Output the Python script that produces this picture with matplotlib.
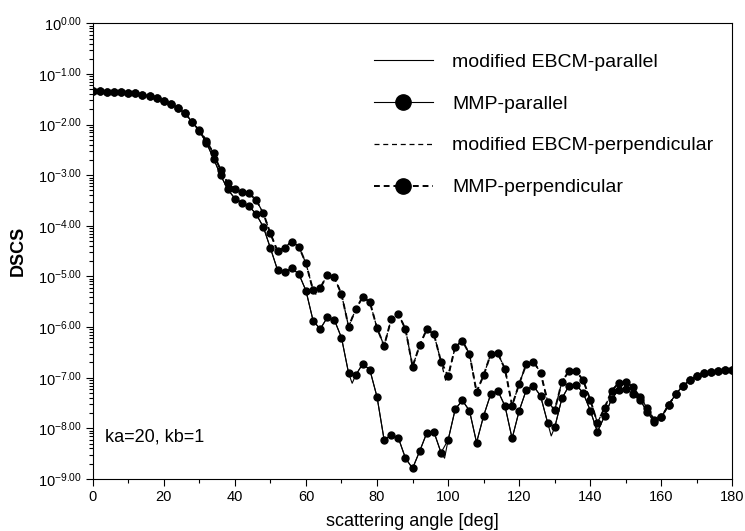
import numpy as np
import matplotlib
matplotlib.use("Agg")
import matplotlib.pyplot as plt
from matplotlib.ticker import FixedLocator, LogLocator, NullFormatter

plt.rcParams["font.family"] = ["Liberation Sans", "DejaVu Sans"]

# scattering angle grid of the MMP points (every 2 deg, 0..180)
angle = np.arange(0, 181, 2)

# log10(DSCS), MMP points
mmp_perp = [
    -1.34, -1.34, -1.35, -1.35, -1.36, -1.37, -1.38, -1.41, -1.44, -1.47,
    -1.53, -1.59, -1.67, -1.78, -1.94, -2.11, -2.32, -2.57, -2.90, -3.16,
    -3.28, -3.33, -3.36, -3.49, -3.75, -4.15, -4.50, -4.43, -4.31, -4.41,
    -4.74, -5.27, -5.23, -4.97, -5.02, -5.35, -5.99, -5.65, -5.40, -5.51,
    -6.02, -6.37, -5.84, -5.74, -6.04, -6.78, -6.36, -6.04, -6.14, -6.68,
    -6.97, -6.39, -6.27, -6.53, -7.28, -6.95, -6.53, -6.52, -6.83, -7.55,
    -7.12, -6.73, -6.68, -6.90, -7.47, -7.64, -7.08, -6.87, -6.87, -7.05,
    -7.44, -7.89, -7.60, -7.26, -7.10, -7.08, -7.19, -7.38, -7.60, -7.84,
    -7.78, -7.54, -7.33, -7.16, -7.05, -6.97, -6.91, -6.88, -6.86, -6.85,
    -6.84,
]
mmp_par = [
    -1.34, -1.34, -1.35, -1.35, -1.36, -1.37, -1.38, -1.41, -1.44, -1.47,
    -1.53, -1.59, -1.67, -1.78, -1.95, -2.13, -2.36, -2.67, -3.00, -3.28,
    -3.46, -3.54, -3.61, -3.77, -4.02, -4.44, -4.87, -4.91, -4.84, -4.95,
    -5.28, -5.87, -6.04, -5.81, -5.86, -6.21, -6.91, -6.95, -6.72, -6.85,
    -7.38, -8.23, -8.13, -8.19, -8.59, -8.79, -8.45, -8.09, -8.07, -8.48,
    -8.23, -7.62, -7.45, -7.65, -8.28, -7.75, -7.32, -7.26, -7.56, -8.20,
    -7.65, -7.24, -7.16, -7.36, -7.89, -7.98, -7.41, -7.16, -7.14, -7.30,
    -7.65, -8.07, -7.76, -7.42, -7.24, -7.22, -7.32, -7.44, -7.67, -7.88,
    -7.78, -7.54, -7.33, -7.16, -7.05, -6.97, -6.91, -6.88, -6.86, -6.85,
    -6.84,
]

# extra minima of the (finer) EBCM curves between MMP points
ebcm_par_dip_angle = [73.0, 99.0, 129.0]
ebcm_par_dip_val = [-7.11, -8.59, -8.15]
ebcm_perp_dip_angle = [63.0, 99.4]
ebcm_perp_dip_val = [-5.37, -7.08]

ytick_exp = [0, -1, -2, -3, -4, -5, -6, -7, -8, -9]
xticks = [0, 20, 40, 60, 80, 100, 120, 140, 160, 180]


def merged(a, v, da, dv):
    x = np.concatenate([a, da])
    y = np.concatenate([v, dv])
    o = np.argsort(x)
    return x[o], 10.0 ** y[o]


fig = plt.figure(figsize=(7.45, 5.31), dpi=100)
ax = fig.add_axes([0.1244, 0.098, 0.8588, 0.858])

ex_par, ey_par = merged(angle, mmp_par, ebcm_par_dip_angle, ebcm_par_dip_val)
ex_perp, ey_perp = merged(angle, mmp_perp, ebcm_perp_dip_angle, ebcm_perp_dip_val)

ax.plot(ex_par, ey_par, color="black", lw=0.8, label="modified EBCM-parallel")
ax.plot(angle, 10.0 ** np.array(mmp_par), color="black", lw=0.8, marker="o",
        ms=5, label="MMP-parallel")
ax.plot(ex_perp, ey_perp, color="black", lw=0.9, ls=(0, (4, 3)),
        label="modified EBCM-perpendicular")
ax.plot(angle, 10.0 ** np.array(mmp_perp), color="black", lw=1.4, ls=(0, (3, 2)),
        marker="o", ms=5, label="MMP-perpendicular")

ax.set_yscale("log")
ax.set_xlim(0, 180)
ax.set_ylim(1e-9, 1e0)

ax.xaxis.set_major_locator(FixedLocator(xticks))
ax.xaxis.set_minor_locator(FixedLocator(np.arange(10, 180, 20)))
ax.set_xticklabels([str(t) for t in xticks], fontsize=10.5)

ax.yaxis.set_major_locator(FixedLocator([10.0 ** e for e in ytick_exp]))
ax.set_yticklabels([r"$\mathregular{10^{%.2f}}$" % e for e in ytick_exp], fontsize=10.5)
ax.yaxis.set_minor_locator(LogLocator(base=10, subs=np.arange(2, 10), numticks=20))
ax.yaxis.set_minor_formatter(NullFormatter())

ax.tick_params(which="both", direction="out", top=False, right=False, width=0.8)
ax.tick_params(which="major", length=5, pad=3)
ax.tick_params(which="minor", length=3)
for s in ax.spines.values():
    s.set_linewidth(0.8)

ax.set_xlabel("scattering angle [deg]", fontsize=13, labelpad=6.5)
ax.set_ylabel("DSCS", fontsize=13, fontweight="bold", labelpad=8)

ax.text(0.02, 0.092, "ka=20, kb=1", transform=ax.transAxes, fontsize=13,
        va="center", ha="left")

ax.legend(loc="upper left", bbox_to_anchor=(0.44, 0.935), frameon=False,
          fontsize=14, handlelength=3.0, handletextpad=1.0, labelspacing=1.25,
          borderaxespad=0, borderpad=0, markerscale=2.2)

fig.savefig("out.png", dpi=100)
